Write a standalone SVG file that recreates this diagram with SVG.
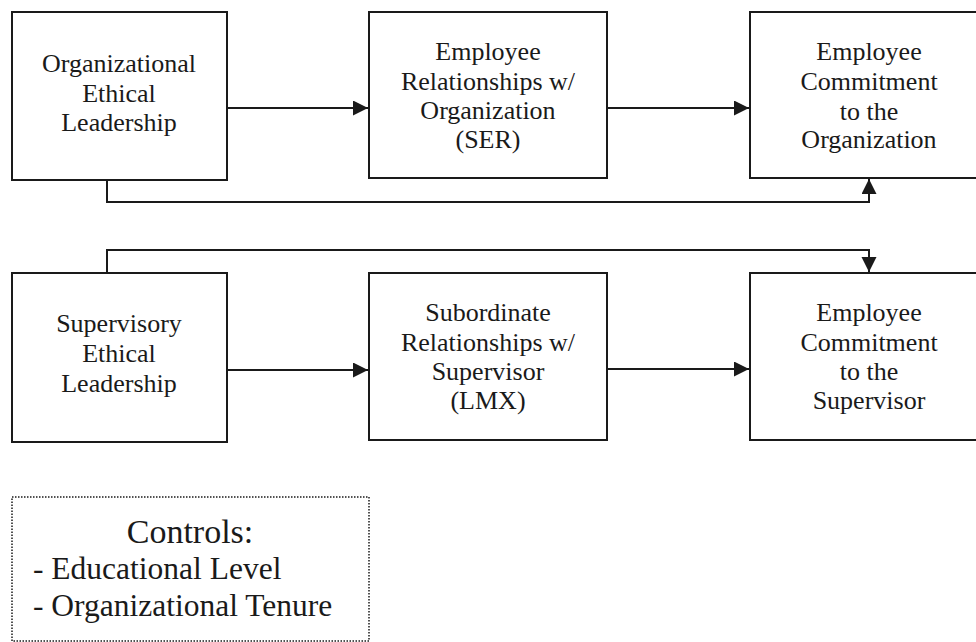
<svg xmlns="http://www.w3.org/2000/svg" width="976" height="642" viewBox="0 0 976 642">
  <style>
    .box { fill: #fff; stroke: #1a1a1a; stroke-width: 2; }
    .lbl { font-family: "Liberation Serif", "Times New Roman", serif; font-size: 26px; fill: #1a1a1a; text-anchor: middle; }
    .conn { fill: none; stroke: #1a1a1a; stroke-width: 2; marker-end: url(#arrow); }
    .ctl { font-family: "Liberation Serif", "Times New Roman", serif; fill: #1a1a1a; }
  </style>
  <defs>
    <marker id="arrow" markerUnits="userSpaceOnUse" markerWidth="16" markerHeight="16" refX="15" refY="7.5" orient="auto">
      <path d="M0,0 L15,7.5 L0,15 z" fill="#1a1a1a"/>
    </marker>
  </defs>
  <rect width="976" height="642" fill="#fff"/>

  <g id="org-ethical-leadership">
    <rect class="box" x="12" y="12" width="215" height="168"/>
    <text class="lbl" x="119" y="72">Organizational</text>
    <text class="lbl" x="119" y="102">Ethical</text>
    <text class="lbl" x="119" y="131">Leadership</text>
  </g>
  <g id="ser">
    <rect class="box" x="369" y="12" width="238" height="166"/>
    <text class="lbl" x="488" y="60">Employee</text>
    <text class="lbl" x="488" y="90">Relationships w/</text>
    <text class="lbl" x="488" y="119">Organization</text>
    <text class="lbl" x="488" y="148">(SER)</text>
  </g>
  <g id="commit-org">
    <rect class="box" x="750" y="12" width="240" height="166"/>
    <text class="lbl" x="869" y="60">Employee</text>
    <text class="lbl" x="869" y="90">Commitment</text>
    <text class="lbl" x="869" y="120">to the</text>
    <text class="lbl" x="869" y="148">Organization</text>
  </g>

  <g id="sup-ethical-leadership">
    <rect class="box" x="12" y="273" width="215" height="169"/>
    <text class="lbl" x="119" y="332">Supervisory</text>
    <text class="lbl" x="119" y="362">Ethical</text>
    <text class="lbl" x="119" y="392">Leadership</text>
  </g>
  <g id="lmx">
    <rect class="box" x="369" y="273" width="238" height="167"/>
    <text class="lbl" x="488" y="321">Subordinate</text>
    <text class="lbl" x="488" y="351">Relationships w/</text>
    <text class="lbl" x="488" y="380">Supervisor</text>
    <text class="lbl" x="488" y="409">(LMX)</text>
  </g>
  <g id="commit-sup">
    <rect class="box" x="750" y="273" width="240" height="167"/>
    <text class="lbl" x="869" y="321">Employee</text>
    <text class="lbl" x="869" y="351">Commitment</text>
    <text class="lbl" x="869" y="380">to the</text>
    <text class="lbl" x="869" y="409">Supervisor</text>
  </g>

  <g id="connectors">
    <path class="conn" d="M227,108 H368"/>
    <path class="conn" d="M607,108 H749"/>
    <path class="conn" d="M107,180 V202 H869 V179"/>
    <path class="conn" d="M227,370 H368"/>
    <path class="conn" d="M607,369 H749"/>
    <path class="conn" d="M107,273 V250 H869 V272"/>
  </g>

  <g id="controls">
    <rect x="12" y="497" width="357" height="144" fill="none" stroke="#1a1a1a" stroke-width="1.5" stroke-dasharray="1.5,1.5"/>
    <text class="ctl" x="190" y="543" font-size="34" text-anchor="middle">Controls:</text>
    <text class="ctl" x="33" y="579" font-size="31.5">- Educational Level</text>
    <text class="ctl" x="33" y="616" font-size="31.5">- Organizational Tenure</text>
  </g>
</svg>
